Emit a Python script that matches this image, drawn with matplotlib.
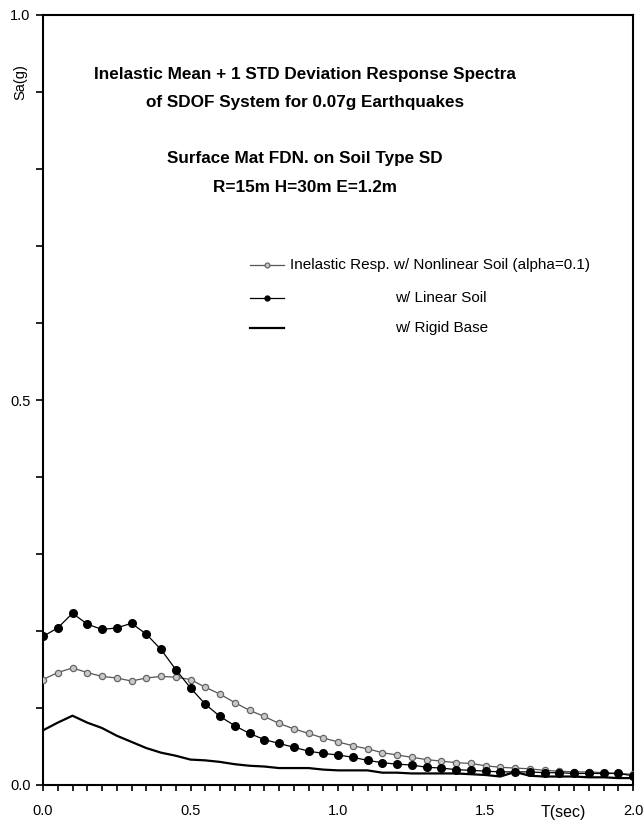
import matplotlib
matplotlib.use("Agg")
import matplotlib.pyplot as plt
from matplotlib.lines import Line2D
from matplotlib.ticker import MultipleLocator

plt.rcParams['font.family'] = ['Liberation Sans', 'DejaVu Sans']

# ── data ───────────────────────────────────────────────────────────────
period = [round(0.05 * i, 2) for i in range(41)]

sa_nonlinear = [0.137, 0.146, 0.152, 0.146, 0.141, 0.139, 0.135, 0.139, 0.141, 0.140,
                0.137, 0.127, 0.118, 0.107, 0.097, 0.089, 0.080, 0.073, 0.067, 0.061,
                0.056, 0.051, 0.047, 0.042, 0.039, 0.036, 0.033, 0.031, 0.029, 0.028,
                0.025, 0.023, 0.022, 0.021, 0.019, 0.018, 0.017, 0.017, 0.016, 0.015,
                0.014]

sa_linear = [0.193, 0.204, 0.223, 0.209, 0.202, 0.204, 0.210, 0.196, 0.176, 0.150,
             0.126, 0.105, 0.089, 0.077, 0.067, 0.059, 0.054, 0.049, 0.044, 0.041,
             0.039, 0.036, 0.032, 0.029, 0.027, 0.026, 0.023, 0.022, 0.020, 0.019,
             0.018, 0.017, 0.017, 0.017, 0.016, 0.016, 0.015, 0.015, 0.015, 0.015,
             0.012]

sa_rigid = [0.071, 0.081, 0.090, 0.081, 0.074, 0.064, 0.056, 0.048, 0.042, 0.038,
            0.033, 0.032, 0.030, 0.027, 0.025, 0.024, 0.022, 0.022, 0.022, 0.020,
            0.019, 0.019, 0.019, 0.016, 0.016, 0.015, 0.015, 0.015, 0.015, 0.014,
            0.013, 0.011, 0.017, 0.012, 0.011, 0.011, 0.011, 0.010, 0.010, 0.009,
            0.009]

legend_labels = ["Inelastic Resp. w/ Nonlinear Soil (alpha=0.1)",
                 "w/ Linear Soil",
                 "w/ Rigid Base"]

title_lines = ["Inelastic Mean + 1 STD Deviation Response Spectra",
               "of SDOF System for 0.07g Earthquakes",
               "Surface Mat FDN. on Soil Type SD",
               "R=15m H=30m E=1.2m"]

# ── styles ─────────────────────────────────────────────────────────────
gray_style  = dict(color='#555555', lw=0.9, marker='o', ms=4.5,
                   mfc='#c8c8c8', mec='#666666', mew=0.9)
black_style = dict(color='black', lw=0.9, marker='o', ms=5.5,
                   mfc='black', mec='black')
rigid_style = dict(color='black', lw=1.6)

W, H = 644, 823
fig = plt.figure(figsize=(W / 100, H / 100), dpi=100)
ax = fig.add_axes([43 / W, 1 - 785 / H, 590 / W, 770 / H])

ax.plot(period, sa_rigid, **rigid_style, zorder=2)
ax.plot(period, sa_nonlinear, **gray_style, zorder=3)
ax.plot(period, sa_linear, **black_style, zorder=4)

ax.set_xlim(0, 2.0)
ax.set_ylim(0, 1.0)
ax.xaxis.set_major_locator(MultipleLocator(0.5))
ax.xaxis.set_minor_locator(MultipleLocator(0.05))
ax.yaxis.set_major_locator(MultipleLocator(0.5))
ax.yaxis.set_minor_locator(MultipleLocator(0.1))
ax.xaxis.set_major_formatter(plt.FormatStrFormatter('%.1f'))
ax.yaxis.set_major_formatter(plt.FormatStrFormatter('%.1f'))
ax.tick_params(axis='both', which='both', direction='out', width=1.2,
               labelsize=10.5, top=False, right=False)
ax.tick_params(axis='x', which='both', length=4, pad=10)
ax.tick_params(axis='y', which='both', length=5, pad=4)
for sp in ax.spines.values():
    sp.set_linewidth(1.5)

fig.text(20 / W, 1 - 82 / H, "Sa(g)", rotation=90, ha='center', va='center',
         fontsize=10.5)
fig.text(563 / W, 1 - 812 / H, "T(sec)", ha='center', va='center', fontsize=11.5)

# title block
for txt, yc in zip(title_lines, [75, 103, 158, 187]):
    fig.text(305 / W, 1 - yc / H, txt, ha='center', va='center',
             fontsize=12.3, fontweight='bold')

# legend drawn by hand to keep the odd alignment
handles = [(gray_style, 265, 290), (black_style, 298, 395), (rigid_style, 328, 395)]
for (style, yc, xtext), label in zip(handles, legend_labels):
    yy = 1 - yc / H
    ln = Line2D([250 / W, 284 / W], [yy, yy], transform=fig.transFigure,
                **{k: v for k, v in style.items() if k != 'marker'})
    fig.add_artist(ln)
    if 'marker' in style:
        mk_style = {k: v for k, v in style.items() if k not in ('lw', 'color', 'ms')}
        mk = Line2D([267 / W], [yy], transform=fig.transFigure, linestyle='none',
                    ms=3.5, **mk_style)
        fig.add_artist(mk)
    fig.text(xtext / W, yy, label, ha='left', va='center', fontsize=11)

fig.savefig("out.png", dpi=100)
